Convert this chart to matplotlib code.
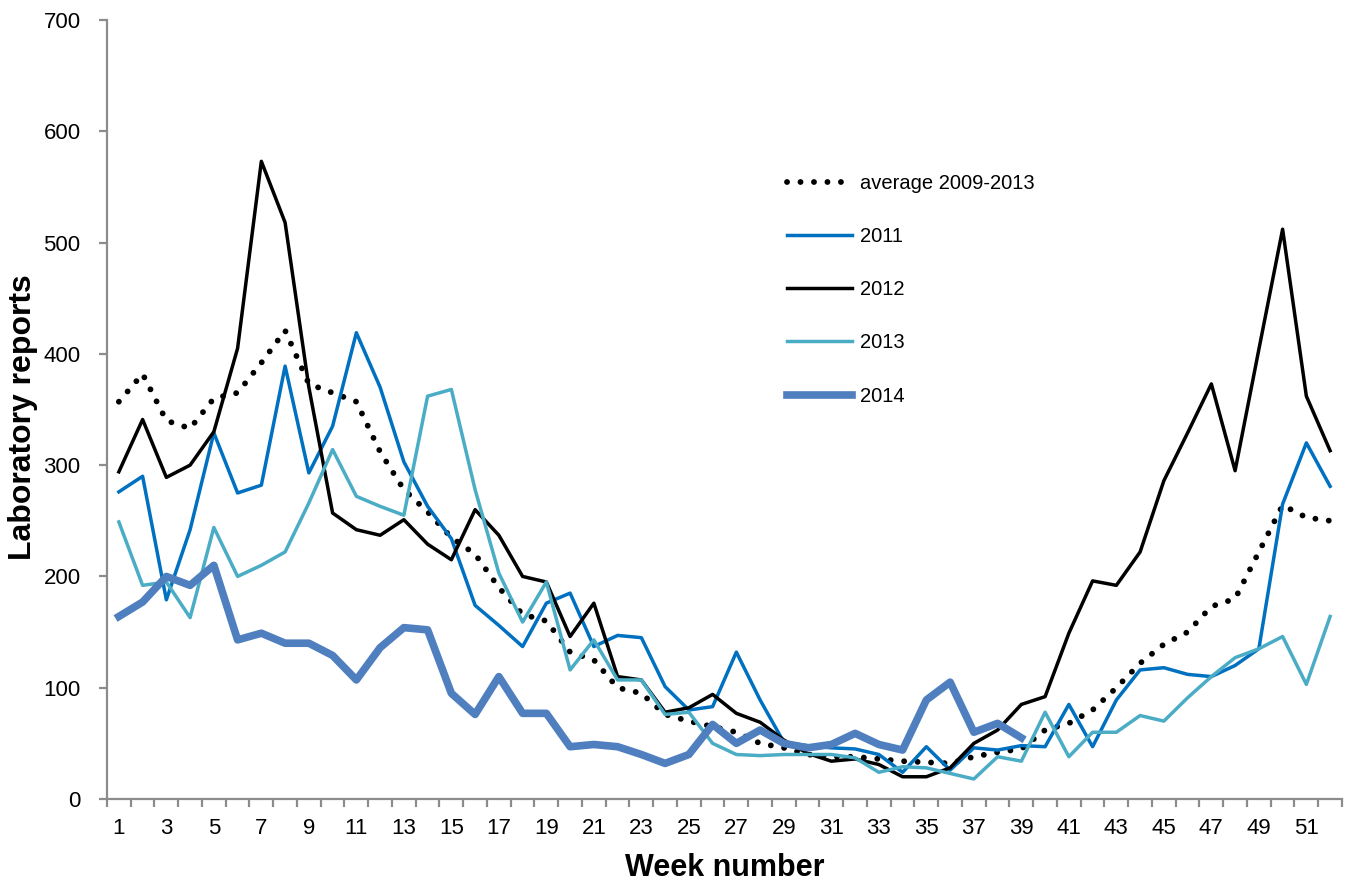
import numpy as np
import matplotlib
matplotlib.use("Agg")
import matplotlib.pyplot as plt
from matplotlib.ticker import FixedLocator

plt.rcParams['font.family'] = ['Liberation Sans', 'DejaVu Sans']

weeks = np.arange(1, 53)

avg_2009_2013 = [357, 382, 340, 333, 360, 365, 392, 421, 373, 365,
                 357, 312, 278, 258, 235, 220, 190, 166, 160, 132,
                 125, 100, 95, 76, 70, 65, 60, 50, 46, 40,
                 38, 38, 36, 34, 33, 32, 38, 42, 45, 62,
                 68, 80, 100, 122, 139, 150, 173, 180, 222, 264,
                 253, 250]

y2011 = [276, 290, 179, 242, 329, 275, 282, 389, 293, 335,
         419, 370, 303, 263, 234, 174, 156, 137, 176, 185,
         137, 147, 145, 101, 80, 83, 132, 89, 51, 48,
         46, 45, 40, 24, 47, 26, 46, 44, 48, 47,
         85, 47, 89, 116, 118, 112, 110, 120, 135, 265,
         320, 281]

y2012 = [294, 341, 289, 300, 330, 405, 573, 518, 370, 257,
         242, 237, 251, 229, 215, 260, 237, 200, 195, 146,
         176, 110, 107, 78, 82, 94, 77, 69, 53, 41,
         34, 36, 31, 20, 20, 28, 50, 62, 85, 92,
         149, 196, 192, 222, 286, 329, 373, 295, 404, 512,
         362, 313]

y2013 = [249, 192, 195, 163, 244, 200, 210, 222, 266, 314,
         272, 263, 255, 362, 368, 278, 203, 159, 195, 116,
         143, 107, 107, 76, 78, 50, 40, 39, 40, 40,
         40, 37, 24, 29, 28, 23, 18, 38, 34, 78,
         38, 60, 60, 75, 70, 91, 110, 127, 135, 146,
         103, 164]

y2014 = [164, 177, 200, 192, 210, 143, 149, 140, 140, 129,
         107, 136, 154, 152, 95, 76, 110, 77, 77, 47,
         49, 47, 40, 32, 40, 67, 50, 62, 50, 46,
         49, 59, 49, 44, 89, 105, 60, 68, 55]

fig = plt.figure(figsize=(13.49, 8.88), dpi=100)
ax = fig.add_axes([0.0793, 0.1002, 0.9155, 0.8773])

ax.plot(weeks, avg_2009_2013, color='black', linestyle=(0, (0.01, 2.3)),
        linewidth=4.2, dash_capstyle='round', solid_capstyle='round',
        label='average 2009-2013')
ax.plot(weeks, y2011, color='#0070C0', linewidth=2.5, label='2011')
ax.plot(weeks, y2012, color='black', linewidth=2.5, label='2012')
ax.plot(weeks, y2013, color='#4BACC6', linewidth=2.5, label='2013')
ax.plot(weeks[:len(y2014)], y2014, color='#4F7FBF', linewidth=5.5,
        solid_joinstyle='round', label='2014')

ax.set_xlim(0.5, 52.5)
ax.set_ylim(0, 700)
ax.set_yticks(np.arange(0, 701, 100))
ax.set_xticks(weeks[::2])
ax.set_xticklabels([str(w) for w in weeks[::2]])
ax.xaxis.set_minor_locator(FixedLocator(np.arange(0.5, 53, 1)))

for side in ['top', 'right']:
    ax.spines[side].set_visible(False)
for side in ['left', 'bottom']:
    ax.spines[side].set_color('#8c8c8c')
    ax.spines[side].set_linewidth(1.6)

ax.tick_params(axis='y', which='major', direction='out', length=6, width=1.6,
               color='#8c8c8c', labelsize=16, pad=13)
ax.tick_params(axis='x', which='major', length=0, labelsize=16, pad=14)
ax.tick_params(axis='x', which='minor', direction='out', length=6, width=1.6,
               color='#8c8c8c')

ax.set_xlabel('Week number', fontsize=22, fontweight='bold', labelpad=10)
ax.set_ylabel('Laboratory reports', fontsize=23, fontweight='bold')
ax.yaxis.set_label_coords(-0.056, 0.49)

leg = ax.legend(loc='upper left', bbox_to_anchor=(0.536, 0.826), frameon=False,
                fontsize=14.5, handlelength=3.2, handletextpad=0.4,
                labelspacing=1.7)

fig.savefig('out.png', dpi=100)
